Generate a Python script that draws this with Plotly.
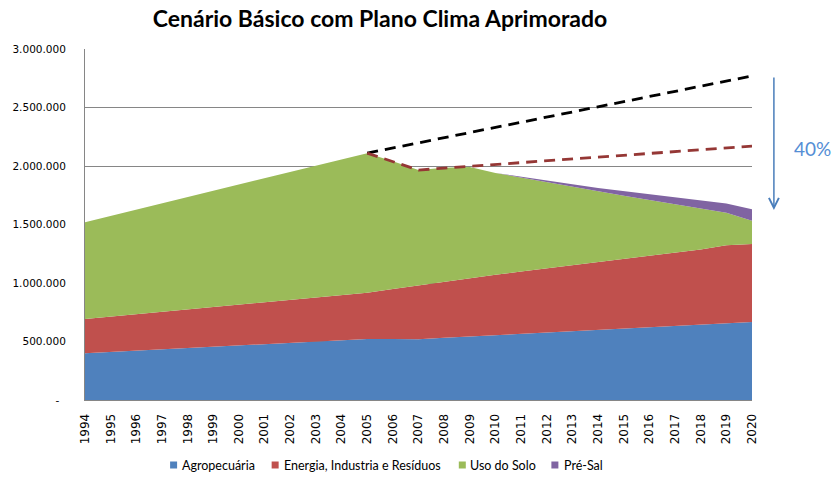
import plotly.graph_objects as go

# ---------------- data ----------------
years = list(range(1994, 2021))
year_labels = [str(y) for y in years]

agropecuaria = [400000, 411000, 422000, 433000, 444000, 455000, 466000, 477000, 488000,
                499000, 510000, 521000, 521000, 520000, 531000, 542000, 553000, 565000,
                576000, 587000, 599000, 610000, 622000, 633000, 644000, 656000, 667000]
energia = [292000, 301000, 311000, 320000, 330000, 339000, 349000, 358000, 368000,
           377000, 387000, 396000, 427000, 460000, 481000, 500000, 517000, 533000,
           549000, 565000, 581000, 597000, 612000, 627000, 643000, 666000, 666000]
uso_solo = [828000, 862000, 894000, 928000, 960000, 994000, 1027000, 1060000, 1093000,
            1126000, 1159000, 1193000, 1092000, 985000, 973000, 950000, 870000, 802000,
            735000, 668000, 600000, 538000, 476000, 412000, 349000, 278000, 199000]
pre_sal = [0, 0, 0, 0, 0, 0, 0, 0, 0, 0, 0, 0, 0, 0, 0, 0,
           0, 10000, 18000, 25000, 32000, 40000, 48000, 58000, 68000, 80000, 98000]

# dashed reference lines (2005-2020)
linha_base = [None] * 11 + [2110000, 2154000, 2198000, 2242000, 2286000, 2330000, 2374000,
                            2418000, 2462000, 2506000, 2550000, 2594000, 2638000, 2682000,
                            2726000, 2770000]
linha_plano = [None] * 11 + [2110000, 2040000, 1965000, 1982000, 1998000, 2015000, 2031000,
                             2047000, 2063000, 2080000, 2096000, 2112000, 2128000, 2144000,
                             2160000, 2170000]

series_names = ["Agropecuária", "Energia, Industria e Resíduos", "Uso do Solo", "Pré-Sal"]
series_colors = ["#4F81BD", "#C0504D", "#9BBB59", "#8064A2"]
series_values = [agropecuaria, energia, uso_solo, pre_sal]

y_tick_values = [0, 500000, 1000000, 1500000, 2000000, 2500000, 3000000]
y_tick_labels = ["-\u00a0\u00a0", "500.000", "1.000.000", "1.500.000", "2.000.000", "2.500.000", "3.000.000"]

title_text = "Cenário Básico com Plano Clima Aprimorado"
reduction_label = "40%"
arrow_top_value = 2770000
arrow_tip_value = 1624000

# ---------------- figure ----------------
fig = go.Figure()

for name, color, vals in zip(series_names, series_colors, series_values):
    fig.add_trace(go.Scatter(
        x=years, y=vals, name=name, mode="lines",
        stackgroup="one", line=dict(width=0, color=color),
        fillcolor=color, showlegend=False, hoverinfo="x+y+name"))

fig.add_trace(go.Scatter(
    x=years, y=linha_base, mode="lines", showlegend=False,
    line=dict(color="#000000", width=2.8, dash="11px,7px"), connectgaps=False))
fig.add_trace(go.Scatter(
    x=years, y=linha_plano, mode="lines", showlegend=False,
    line=dict(color="#953735", width=2.8, dash="11px,7px"), connectgaps=False))

L, R, T, B = 82, 82, 49, 79
W, H = 834, 479
plot_w = W - L - R
plot_h = H - T - B

annotations = []
shapes = []

# reduction arrow and label
arrow_x = (774 - L) / plot_w
annotations.append(dict(
    x=arrow_x, y=arrow_tip_value, xref="x domain", yref="y",
    ax=arrow_x, ay=arrow_top_value, axref="x domain", ayref="y",
    text="", showarrow=True, arrowhead=5, arrowsize=1.3, arrowwidth=1.5,
    arrowcolor="#4A7EBB", standoff=0, startstandoff=0))
annotations.append(dict(
    x=(792 - L) / plot_w, y=(400 - 148) / 117 * 1e6, xref="x domain", yref="y",
    text=reduction_label, showarrow=False, xanchor="left", yanchor="middle",
    font=dict(family="Lato", size=19, color="#558ED5")))

# manual legend
legend_sq_x = [171, 273, 461, 554]
legend_txt_x = [177, 280, 467, 561]
legend_y = -(465 - (H - B)) / plot_h
for name, color, sx, tx in zip(series_names, series_colors, legend_sq_x, legend_txt_x):
    shapes.append(dict(
        type="rect", xref="paper", yref="paper",
        xsizemode="pixel", ysizemode="pixel",
        xanchor=(sx - L) / plot_w, yanchor=legend_y,
        x0=-3.5, x1=3.5, y0=-3.5, y1=3.5,
        fillcolor=color, line=dict(width=0)))
    annotations.append(dict(
        x=(tx - L) / plot_w, y=legend_y, xref="paper", yref="paper",
        text=name, showarrow=False, xanchor="left", yanchor="middle",
        font=dict(family="Lato", size=12.5, color="#000000")))

fig.update_layout(
    width=W, height=H,
    margin=dict(l=L, r=R, t=T, b=B, pad=0),
    paper_bgcolor="white", plot_bgcolor="white",
    title=dict(text="<b>" + title_text + "</b>", x=380 / W, xanchor="center",
               xref="container", y=1 - 19 / H, yanchor="middle", yref="container",
               font=dict(family="Lato", size=23, color="#000000")),
    showlegend=False,
    annotations=annotations,
    shapes=shapes,
    xaxis=dict(
        range=[1994, 2020], tickmode="array", tickvals=years, ticktext=year_labels,
        tickangle=-90, showgrid=False, zeroline=False,
        showline=True, linecolor="#868686", linewidth=1,
        ticks="", ticklabelstandoff=8,
        tickfont=dict(family="DejaVu Sans", size=12, color="#000000")),
    yaxis=dict(
        range=[0, 3000000], tickmode="array", tickvals=y_tick_values, ticktext=y_tick_labels,
        showgrid=True, gridcolor="#868686", gridwidth=1, zeroline=False,
        showline=True, linecolor="#868686", linewidth=1,
        ticks="", ticklabelstandoff=16,
        tickfont=dict(family="DejaVu Sans", size=10.5, color="#000000")),
)

fig.write_html(
    "out.html",
    config={"displayModeBar": False},
    post_script="document.body.style.margin='0';document.body.style.padding='0';"
                "document.body.style.overflow='hidden';")
